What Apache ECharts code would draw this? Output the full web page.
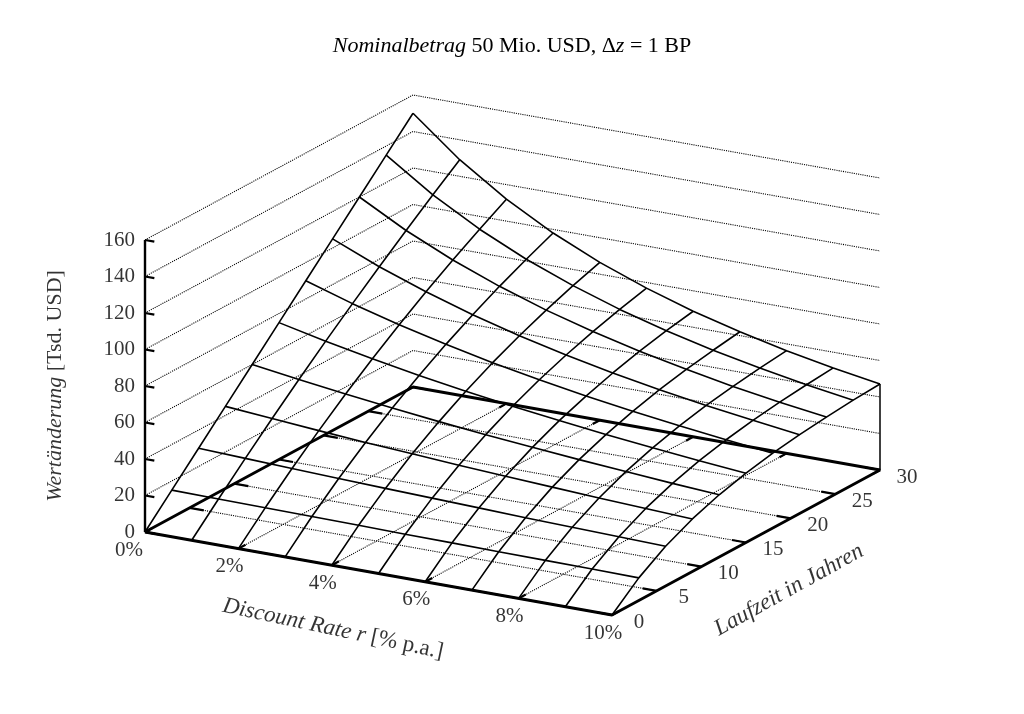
<!DOCTYPE html>
<html>
<head>
<meta charset="utf-8">
<script src="https://cdn.jsdelivr.net/npm/echarts@6/dist/echarts.min.js"></script>
<style>
  html, body { margin: 0; padding: 0; background: #fff; }
  #chart { width: 1024px; height: 714px; }
</style>
</head>
<body>
<div id="chart"></div>
<script>
// Stützstellen
var rates = [0, 1, 2, 3, 4, 5, 6, 7, 8, 9, 10];            // % p.a.
var years = [0, 3, 6, 9, 12, 15, 18, 21, 24, 27, 30];       // Laufzeit
// Wertänderung [Tsd. USD], je Zeile ein Zinssatz, je Spalte eine Laufzeit
var values = [
  [0, 15.0, 30.0, 45.0, 60.0, 75.0, 90.0, 105.0, 120.0, 135.0, 150.0],
  [0, 14.7, 29.0, 42.9, 56.3, 69.4, 82.0, 94.3, 106.2, 117.8, 129.1],
  [0, 14.4, 28.0, 40.8, 52.9, 64.3, 75.0, 85.1, 94.6, 103.5, 112.0],
  [0, 14.2, 27.1, 38.9, 49.8, 59.7, 68.8, 77.1, 84.7, 91.6, 98.0],
  [0, 13.9, 26.2, 37.2, 46.9, 55.6, 63.3, 70.1, 76.2, 81.7, 86.5],
  [0, 13.6, 25.4, 35.5, 44.3, 51.9, 58.5, 64.1, 69.0, 73.2, 76.9],
  [0, 13.4, 24.6, 34.0, 41.9, 48.6, 54.1, 58.8, 62.8, 66.1, 68.8],
  [0, 13.1, 23.8, 32.6, 39.7, 45.5, 50.3, 54.2, 57.4, 59.9, 62.1],
  [0, 12.9, 23.1, 31.2, 37.7, 42.8, 46.9, 50.1, 52.6, 54.7, 56.3],
  [0, 12.7, 22.4, 30.0, 35.8, 40.3, 43.8, 46.5, 48.5, 50.1, 51.4],
  [0, 12.4, 21.8, 28.8, 34.1, 38.0, 41.0, 43.2, 44.9, 46.2, 47.1]
];
var rTicks = [0, 2, 4, 6, 8, 10];
var tTicks = [0, 5, 10, 15, 20, 25, 30];
var zTicks = [0, 20, 40, 60, 80, 100, 120, 140, 160];

var FONT = 'Liberation Serif';

// Projektion (orthografisch, Blick von vorne links oben)
function proj(r, t, z) {
  return [
    145 + r / 10 * 467 + t / 30 * 268,
    532 + r / 10 * 83 - t / 30 * 145 - z / 160 * 292
  ];
}

var series = [];
function line(pts, width, type) {
  series.push({
    type: 'line', data: pts, showSymbol: false, silent: true, z: type === 'dotted' ? 1 : 3,
    lineStyle: { color: '#000', width: width, type: type || 'solid', opacity: 1 }
  });
}
function labels(items, style) {
  series.push({
    type: 'scatter', symbolSize: 0, silent: true, z: 5,
    data: items.map(function (it) { return { value: it.pos, name: it.text }; }),
    label: Object.assign({
      show: true, formatter: '{b}', color: '#000', fontFamily: FONT, fontSize: 21
    }, style)
  });
}

// Rückwände (gepunktet)
zTicks.slice(1).forEach(function (z) {
  line([proj(0, 0, z), proj(0, 30, z), proj(10, 30, z)], 1.1, 'dotted');
});
// Bodenraster (gepunktet)
rTicks.slice(1, -1).forEach(function (r) { line([proj(r, 0, 0), proj(r, 30, 0)], 1.1, 'dotted'); });
tTicks.slice(1, -1).forEach(function (t) { line([proj(0, t, 0), proj(10, t, 0)], 1.1, 'dotted'); });

// Bodenrahmen und Achsen
line([proj(0, 0, 0), proj(10, 0, 0), proj(10, 30, 0), proj(0, 30, 0), proj(0, 0, 0)], 2.8);
line([proj(0, 0, 0), proj(0, 0, 160)], 2.4);
line([proj(10, 30, 0), proj(10, 30, values[10][10])], 1.5);

// Teilstriche
zTicks.forEach(function (z) { line([proj(0, 0, z), proj(0.2, 0, z)], 2.2); });
rTicks.forEach(function (r) {
  line([proj(r, 0, 0), proj(r, 0.8, 0)], 2.2);
  line([proj(r, 30, 0), proj(r, 29.2, 0)], 2.2);
});
tTicks.forEach(function (t) {
  line([proj(10, t, 0), proj(9.7, t, 0)], 2.2);
  line([proj(0, t, 0), proj(0.3, t, 0)], 2.2);
});

// Fläche als Gitternetz
rates.forEach(function (r, i) {
  line(years.map(function (t, j) { return proj(r, t, values[i][j]); }), 1.6);
});
years.forEach(function (t, j) {
  line(rates.map(function (r, i) { return proj(r, t, values[i][j]); }), 1.6);
});

// Achsenbeschriftungen
labels(zTicks.map(function (z) {
  var p = proj(0, 0, z); return { pos: [p[0] - 10, p[1]], text: String(z) };
}), { position: 'left', distance: 0 });
labels(rTicks.map(function (r) {
  var p = proj(r, 0, 0); return { pos: [p[0] - (r === 0 ? 16 : 9), p[1] + 18], text: r + '%' };
}), { position: 'inside' });
labels(tTicks.map(function (t) {
  var p = proj(10, t, 0); return { pos: [p[0] + 27, p[1] + 7], text: String(t) };
}), { position: 'inside' });

// Achsentitel
labels([{ pos: [333, 629], text: 'Discount Rate r [% p.a.]' }], {
  position: 'inside', rotate: -12, fontSize: 23,
  formatter: '{i|Discount Rate r} [% p.a.]',
  rich: { i: { fontStyle: 'italic', fontFamily: FONT, fontSize: 23, color: '#000' } }
});
labels([{ pos: [789, 590], text: 'Laufzeit in Jahren' }], {
  position: 'inside', rotate: 29, fontSize: 23, fontStyle: 'italic'
});
labels([{ pos: [55, 386], text: 'Wertänderung [Tsd. USD]' }], {
  position: 'inside', rotate: 90, fontSize: 22,
  formatter: '{i|Wertänderung} [Tsd. USD]',
  rich: { i: { fontStyle: 'italic', fontFamily: FONT, fontSize: 22, color: '#000' } }
});

var myChart = echarts.init(document.getElementById('chart'));
myChart.setOption({
  animation: false,
  backgroundColor: '#fff',
  title: {
    text: '{i|Nominalbetrag} 50 Mio. USD, Δ{i|z} = 1 BP',
    left: 'center', top: 30,
    textStyle: {
      fontFamily: FONT, fontSize: 22, fontWeight: 'normal', color: '#000',
      rich: { i: { fontStyle: 'italic', fontFamily: FONT, fontSize: 22, color: '#000' } }
    }
  },
  grid: { left: 0, right: 0, top: 0, bottom: 0 },
  xAxis: { type: 'value', min: 0, max: 1024, show: false },
  yAxis: { type: 'value', min: 0, max: 714, inverse: true, show: false },
  series: series
});
</script>
</body>
</html>
